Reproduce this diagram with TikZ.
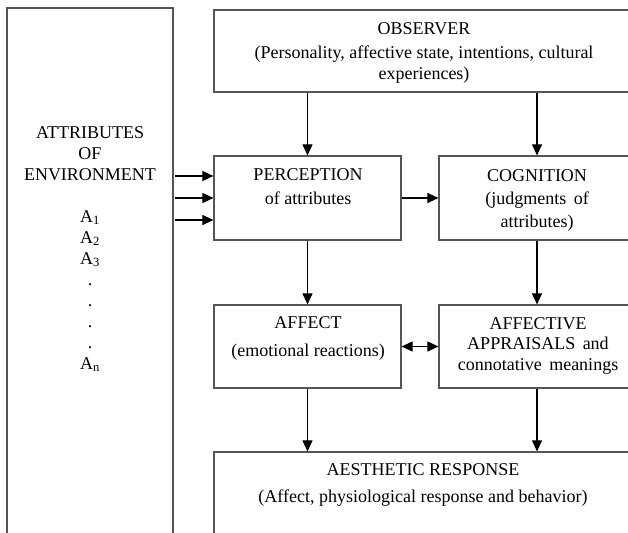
\documentclass[tikz,border=0pt]{standalone}
\usepackage{fontspec}
\setmainfont{Liberation Serif}
\usetikzlibrary{arrows.meta}
\usetikzlibrary{calc}
\definecolor{boxGray}{RGB}{85,85,85}

\begin{document}
\begin{tikzpicture}[
    x=1pt, y=-1pt,
    line join=miter,
    box/.style={
        draw=boxGray,
        line width=1.2pt,
        inner sep=0pt
    },
    txt/.style={
        align=center,
        anchor=north,
        inner sep=0pt,
        font=\fontsize{18}{21.5}\selectfont
    },
    arr/.style={
        line width=1.1pt,
        -{Triangle[length=11pt,width=10pt]}
    },
    dblarr/.style={
        line width=1.1pt,
        {Triangle[length=11pt,width=10pt]}-{Triangle[length=11pt,width=10pt]}
    }
]

    \clip (0,0) rectangle (628,532);

    % Boxes
    \node[box, minimum width=166pt, minimum height=560pt] (env) at (90,288) {};
    \node[box, minimum width=420pt, minimum height=82pt] (obs) at (424,51) {};
    \node[box, minimum width=187pt, minimum height=84pt] (perc) at (307.5,198) {};
    \node[box, minimum width=196pt, minimum height=84pt] (cog) at (537,198) {};
    \node[box, minimum width=187pt, minimum height=83pt] (aff) at (307.5,346.5) {};
    \node[box, minimum width=196pt, minimum height=83pt] (appr) at (537,346.5) {};
    \node[box, minimum width=420pt, minimum height=120pt] (aes) at (424,512) {};

    % Texts
    \node[txt, font=\fontsize{18}{21}\selectfont] (envtxt) at (90,126) {ATTRIBUTES\\ OF\\ ENVIRONMENT\\[21pt]
        A\textsubscript{1}\\ A\textsubscript{2}\\ A\textsubscript{3}\\ .\\ .\\ .\\ .\\ A\textsubscript{n}};
    \node[txt] (obstxt) at (424,22) {OBSERVER\\[2.5pt] (Personality, affective state, intentions, cultural\\ experiences)};
    \node[txt] (perctxt) at (308,168) {PERCEPTION\\[2.5pt] of attributes};
    \node[txt] (cogtxt) at (537,169) {COGNITION\\[1.5pt] (judgments\, of\\[1.5pt] attributes)};
    \node[txt] (afftxt) at (308,316) {AFFECT\\[7pt] (emotional reactions)};
    \node[txt] (apprtxt) at (538,317) {AFFECTIVE\\[-1pt] APPRAISALS\, and\\[-1pt] connotative\, meanings};
    \node[txt] (aestxt) at (423,463) {AESTHETIC RESPONSE\\[5.5pt] (Affect, physiological response and behavior)};

    % Arrows
    \foreach \dy in {-22,0,22} {
        \draw[arr] ($(env.east |- perc.west) + (1,\dy)$) -- ($(perc.west) + (0,\dy)$);
    }
    \draw[arr] (obs.south -| perc) -- (perc);
    \draw[arr] (obs.south -| cog) -- (cog);
    \draw[arr] (perc) -- (cog);
    \draw[arr] (perc) -- (aff);
    \draw[arr] (cog) -- (appr);
    \draw[dblarr] (aff) -- (appr);
    \draw[arr] (aff) -- (aff |- aes.north);
    \draw[arr] (appr) -- (appr |- aes.north);

\end{tikzpicture}
\end{document}
